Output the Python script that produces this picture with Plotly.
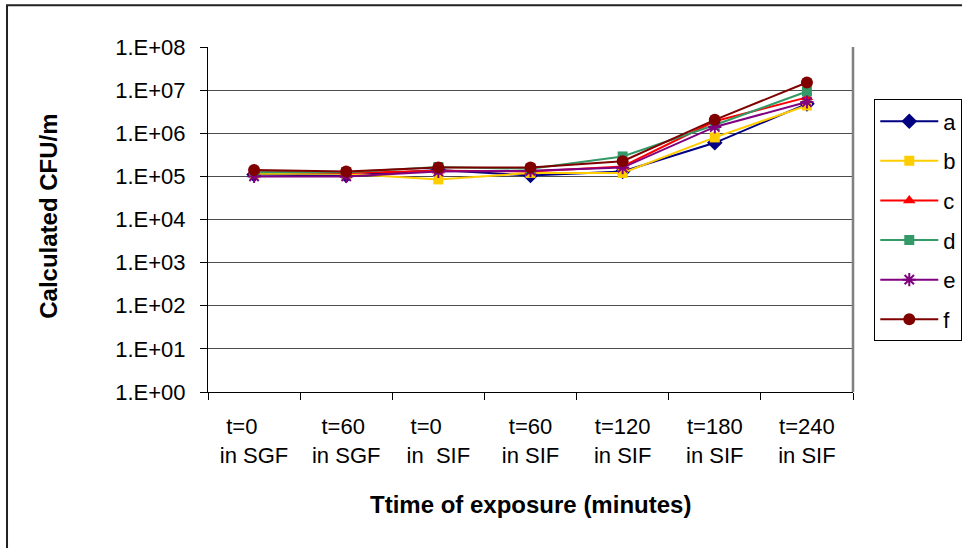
import plotly.graph_objects as go

# Exposure stages (x categories) and their two-line labels
stages = ["t=0 in SGF", "t=60 in SGF", "t=0 in SIF", "t=60 in SIF",
          "t=120 in SIF", "t=180 in SIF", "t=240 in SIF"]
stage_labels = ["t=0&nbsp;&nbsp;&nbsp;&nbsp;<br>in SGF", "t=60&nbsp;<br>in SGF",
                "t=0&nbsp;&nbsp;&nbsp;&nbsp;<br>in  SIF", "t=60<br>in SIF",
                "t=120<br>in SIF", "t=180<br>in SIF", "t=240<br>in SIF"]

# Calculated CFU/ml per strain
cfu_a = [1.1e5, 1.05e5, 1.4e5, 1.05e5, 1.3e5, 6.0e5, 4.8e6]
cfu_b = [1.15e5, 1.15e5, 8.5e4, 1.2e5, 1.2e5, 8.0e5, 4.4e6]
cfu_c = [1.3e5, 1.2e5, 1.35e5, 1.3e5, 1.7e5, 1.9e6, 6.8e6]
cfu_d = [1.25e5, 1.25e5, 1.65e5, 1.5e5, 2.9e5, 1.55e6, 9.3e6]
cfu_e = [1.0e5, 1.0e5, 1.3e5, 1.35e5, 1.6e5, 1.4e6, 5.3e6]
cfu_f = [1.4e5, 1.3e5, 1.6e5, 1.6e5, 2.25e5, 2.05e6, 1.5e7]

# Y tick values and their Excel-style labels
y_tick_vals = [1e0, 1e1, 1e2, 1e3, 1e4, 1e5, 1e6, 1e7, 1e8]
y_tick_text = ["1.E+00", "1.E+01", "1.E+02", "1.E+03", "1.E+04",
               "1.E+05", "1.E+06", "1.E+07", "1.E+08"]

series = [
    ("a", cfu_a, "#000080", "diamond", 12),
    ("b", cfu_b, "#FFCC00", "square", 10),
    ("c", cfu_c, "#FF0000", "triangle-up", 11),
    ("d", cfu_d, "#339966", "square", 10),
    ("e", cfu_e, "#800080", "asterisk", 11),
    ("f", cfu_f, "#800000", "circle", 12),
]

FONT = "Liberation Sans, Arial, sans-serif"

fig = go.Figure()
for name, vals, color, symbol, size in series:
    marker = dict(symbol=symbol, size=size, color=color)
    if symbol == "asterisk":
        marker["line"] = dict(color=color, width=2)
    else:
        marker["line"] = dict(width=0)
    fig.add_trace(go.Scatter(
        x=stages, y=vals, name=name, mode="lines+markers",
        line=dict(color=color, width=2), marker=marker,
        legendgroup=name,
    ))

fig.update_layout(
    width=962, height=548,
    margin=dict(l=208, r=109, t=47, b=156, autoexpand=False),
    paper_bgcolor="white", plot_bgcolor="white",
    font=dict(family=FONT, size=20, color="black"),
    showlegend=True,
    legend=dict(
        x=1.033, y=0.848, xanchor="left", yanchor="top",
        bordercolor="black", borderwidth=1, bgcolor="white",
        font=dict(family=FONT, size=22),
        traceorder="grouped", tracegroupgap=8,
        itemwidth=58, entrywidth=140, entrywidthmode="pixels",
    ),
    xaxis=dict(
        type="category", categoryorder="array", categoryarray=stages,
        tickvals=stages, ticktext=stage_labels,
        tickson="boundaries", ticks="outside", ticklen=7,
        tickcolor="black", showline=True, linecolor="black", linewidth=1,
        showgrid=False, tickfont=dict(size=22), ticklabelstandoff=15,
        range=[-0.5, 6.5],
    ),
    yaxis=dict(
        type="log", range=[0, 8],
        tickvals=y_tick_vals, ticktext=y_tick_text,
        ticks="outside", ticklen=7, tickcolor="black",
        showline=True, linecolor="black", linewidth=1,
        showgrid=True, gridcolor="#4d4d4d", gridwidth=1,
        tickfont=dict(size=22), ticklabelstandoff=10,
        zeroline=False,
    ),
    annotations=[
        dict(text="<b>Ttime of exposure (minutes)</b>", xref="paper", yref="paper",
             x=0.4995, y=-0.3255, xanchor="center", yanchor="middle",
             showarrow=False, font=dict(size=24)),
        dict(text="<b>Calculated CFU/m</b>", xref="paper", yref="paper",
             x=-0.2465, y=0.508, xanchor="center", yanchor="middle",
             textangle=-90, showarrow=False, font=dict(size=24)),
    ],
    shapes=[
        # grey frame on the right side of the plot area
        dict(type="line", xref="paper", yref="paper", x0=1, x1=1, y0=0, y1=1,
             line=dict(color="#808080", width=2.5)),
        # outer chart border
        dict(type="rect", xref="paper", yref="paper",
             x0=-0.3116, x1=1.3, y0=-0.6, y1=1.1209,
             line=dict(color="#222222", width=2)),
    ],
)

fig.write_html("out.html")
